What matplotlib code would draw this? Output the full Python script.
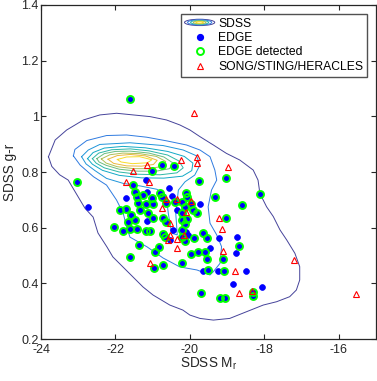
import matplotlib
matplotlib.use("Agg")
import matplotlib.pyplot as plt
from matplotlib.legend_handler import HandlerBase
from matplotlib.patches import Ellipse
from matplotlib.lines import Line2D

plt.rcParams['font.family'] = ['Liberation Sans', 'DejaVu Sans']
plt.rcParams['mathtext.fontset'] = 'custom'
plt.rcParams['mathtext.rm'] = 'Liberation Sans'
plt.rcParams['mathtext.it'] = 'Liberation Sans'
plt.rcParams['axes.unicode_minus'] = False

# ---------------- data ----------------
# SDSS density contours (outer to inner), vertices
sdss_c1 = [(-23.80, 0.855), (-23.62, 0.915), (-23.31, 0.951), (-22.86, 0.987), (-22.42, 1.005),
           (-21.97, 1.011), (-21.52, 1.005), (-21.07, 0.999), (-20.63, 0.987), (-20.27, 0.969),
           (-20.0, 0.951), (-19.73, 0.927), (-19.37, 0.897), (-19.02, 0.867), (-18.66, 0.843),
           (-18.30, 0.807), (-18.17, 0.771), (-18.12, 0.723), (-17.94, 0.675), (-17.76, 0.640),
           (-17.58, 0.592), (-17.40, 0.556), (-17.18, 0.508), (-17.05, 0.460), (-17.05, 0.412),
           (-17.14, 0.376), (-17.32, 0.352), (-17.67, 0.334), (-18.03, 0.322), (-18.48, 0.298),
           (-18.93, 0.274), (-19.37, 0.268), (-19.73, 0.274), (-20.0, 0.286), (-20.19, 0.304),
           (-20.54, 0.322), (-20.99, 0.358), (-21.26, 0.387), (-21.53, 0.423), (-21.80, 0.459),
           (-22.07, 0.495), (-22.23, 0.531), (-22.47, 0.581), (-22.60, 0.638), (-22.82, 0.670),
           (-22.95, 0.699), (-23.27, 0.771), (-23.50, 0.790), (-23.71, 0.820), (-23.80, 0.855)]
sdss_c2 = [(-23.13, 0.858), (-23.09, 0.881), (-22.77, 0.913), (-22.24, 0.931), (-21.70, 0.933),
           (-21.16, 0.925), (-20.63, 0.912), (-20.09, 0.897), (-19.73, 0.879), (-19.46, 0.855),
           (-19.33, 0.807), (-19.28, 0.771), (-19.42, 0.735), (-19.51, 0.675), (-19.46, 0.616),
           (-19.28, 0.574), (-19.15, 0.532), (-19.19, 0.472), (-19.37, 0.442), (-19.46, 0.430),
           (-19.81, 0.448), (-20.27, 0.459), (-20.72, 0.491), (-21.15, 0.531), (-21.61, 0.566),
           (-21.70, 0.602), (-21.79, 0.651), (-21.97, 0.699), (-22.24, 0.753), (-22.59, 0.783),
           (-22.95, 0.825), (-23.13, 0.858)]
sdss_c3 = [(-22.91, 0.855), (-22.73, 0.879), (-22.42, 0.899), (-21.61, 0.905), (-20.72, 0.895),
           (-20.18, 0.879), (-19.82, 0.858), (-19.73, 0.825), (-19.87, 0.789), (-20.13, 0.765),
           (-20.31, 0.735), (-20.38, 0.651), (-20.34, 0.574), (-20.49, 0.580), (-20.58, 0.651),
           (-20.64, 0.717), (-20.89, 0.738), (-21.34, 0.750), (-21.79, 0.759), (-22.24, 0.777),
           (-22.55, 0.805), (-22.79, 0.829), (-22.91, 0.855)]
sdss_c4 = [(-22.75, 0.848), (-22.60, 0.870), (-22.30, 0.886), (-21.80, 0.892), (-21.20, 0.887),
           (-20.60, 0.874), (-20.15, 0.856), (-19.92, 0.832), (-19.95, 0.805), (-20.20, 0.785),
           (-20.70, 0.778), (-21.30, 0.779), (-21.90, 0.788), (-22.35, 0.806), (-22.62, 0.828),
           (-22.75, 0.848)]
sdss_c5 = [(-22.62, 0.848), (-22.45, 0.868), (-22.10, 0.880), (-21.60, 0.883), (-21.10, 0.876),
           (-20.60, 0.861), (-20.30, 0.840), (-20.18, 0.815), (-20.35, 0.797), (-20.80, 0.790),
           (-21.40, 0.792), (-21.90, 0.800), (-22.30, 0.815), (-22.52, 0.832), (-22.62, 0.848)]
sdss_c6 = [(-22.50, 0.848), (-22.30, 0.866), (-22.00, 0.874), (-21.60, 0.875), (-21.10, 0.868),
           (-20.70, 0.854), (-20.45, 0.832), (-20.55, 0.812), (-20.90, 0.803), (-21.40, 0.803),
           (-21.90, 0.810), (-22.25, 0.824), (-22.44, 0.836), (-22.50, 0.848)]
sdss_c7 = [(-22.38, 0.847), (-22.15, 0.862), (-21.80, 0.868), (-21.35, 0.866), (-20.90, 0.856),
           (-20.65, 0.838), (-20.75, 0.820), (-21.10, 0.812), (-21.50, 0.812), (-21.95, 0.819),
           (-22.25, 0.832), (-22.38, 0.847)]
sdss_c8 = [(-22.20, 0.846), (-21.95, 0.859), (-21.60, 0.863), (-21.20, 0.858), (-20.88, 0.842),
           (-20.98, 0.827), (-21.30, 0.821), (-21.70, 0.822), (-22.05, 0.831), (-22.20, 0.846)]
sdss_c9 = [(-21.95, 0.845), (-21.70, 0.854), (-21.35, 0.855), (-21.02, 0.844), (-21.15, 0.833),
           (-21.55, 0.830), (-21.85, 0.836), (-21.95, 0.845)]
sdss_contours = [sdss_c1, sdss_c2, sdss_c3, sdss_c4, sdss_c5, sdss_c6, sdss_c7, sdss_c8, sdss_c9]
contour_colors = ['#45439a', '#2f7be0', '#1f95da', '#12a9c6', '#2db7a6',
                  '#6cbd7e', '#b0bf55', '#eab83c', '#f6dc28']

# EDGE galaxies: M_r, g-r, detected flag
edge_mr = [-21.61, -23.02, -22.73, -21.03, -20.76, -20.44, -21.19, -19.75, -19.02, -18.13,
           -18.60, -19.33, -19.73, -19.02, -22.04, -21.73, -21.61, -21.36, -20.97, -20.72,
           -20.20, -19.70, -19.19, -19.05, -18.30, -18.68, -18.73, -18.75, -18.84, -18.48,
           -18.06, -19.24, -19.10, -19.09, -19.22, -19.46, -19.52, -19.54, -19.66, -19.60,
           -19.79, -19.98, -19.88, -19.64, -19.54, -20.93, -20.82, -21.79, -21.61, -21.43,
           -21.19, -21.07, -20.04, -21.52, -21.48, -21.43, -21.25, -21.16, -21.03, -20.81,
           -20.76, -20.56, -20.48, -20.63, -20.40, -20.11, -20.09, -20.20, -19.96, -19.91,
           -19.82, -20.13, -20.22, -21.39, -21.19, -20.98, -21.88, -21.72, -21.59, -21.34,
           -21.12, -20.98, -20.72, -20.36, -21.66, -21.48, -21.16, -20.65, -20.20, -20.13,
           -20.07, -20.45, -20.22, -20.11, -20.67, -20.73, -20.21, -20.13, -20.54, -18.30]
edge_gr = [1.061, 0.765, 0.673, 0.802, 0.825, 0.823, 0.771, 0.768, 0.777, 0.721,
           0.683, 0.711, 0.685, 0.635, 0.602, 0.707, 0.496, 0.538, 0.454, 0.466,
           0.473, 0.364, 0.346, 0.346, 0.356, 0.534, 0.565, 0.508, 0.398, 0.446,
           0.386, 0.446, 0.486, 0.446, 0.562, 0.526, 0.448, 0.486, 0.446, 0.511,
           0.511, 0.505, 0.564, 0.580, 0.564, 0.511, 0.532, 0.588, 0.594, 0.596,
           0.588, 0.588, 0.574, 0.753, 0.729, 0.711, 0.717, 0.729, 0.705, 0.723,
           0.711, 0.744, 0.714, 0.687, 0.693, 0.726, 0.711, 0.693, 0.685, 0.663,
           0.654, 0.675, 0.651, 0.687, 0.685, 0.685, 0.663, 0.666, 0.646, 0.663,
           0.651, 0.634, 0.634, 0.663, 0.622, 0.628, 0.624, 0.622, 0.628, 0.613,
           0.632, 0.592, 0.592, 0.586, 0.565, 0.576, 0.565, 0.553, 0.556, 0.368]
edge_detected = [1, 1, 0, 1, 1, 1, 0, 1, 1, 1,
                 1, 1, 0, 1, 1, 0, 1, 1, 1, 1,
                 1, 1, 1, 1, 1, 1, 0, 0, 0, 0,
                 0, 0, 1, 1, 0, 0, 1, 1, 0, 1,
                 1, 1, 1, 1, 1, 1, 1, 1, 1, 1,
                 1, 1, 0, 1, 1, 1, 1, 0, 1, 1,
                 1, 0, 0, 1, 1, 1, 1, 1, 1, 1,
                 1, 1, 1, 1, 1, 1, 1, 1, 1, 1,
                 1, 1, 1, 0, 1, 1, 0, 1, 1, 1,
                 1, 0, 1, 0, 1, 1, 1, 1, 0, 1]

# SONG / STING / HERACLES galaxies
song_mr = [-19.88, -20.24, -19.82, -19.82, -18.99, -21.16, -21.54, -21.73, -21.10, -20.63,
           -20.36, -19.96, -20.74, -20.11, -19.22, -19.13, -20.54, -20.54, -20.58, -20.36,
           -20.15, -20.36, -19.12, -21.08, -18.79, -18.68, -18.33, -17.21, -15.54]
song_gr = [1.013, 0.843, 0.855, 0.831, 0.817, 0.824, 0.804, 0.765, 0.764, 0.703,
           0.704, 0.695, 0.671, 0.655, 0.634, 0.594, 0.616, 0.574, 0.556, 0.558,
           0.572, 0.526, 0.516, 0.474, 0.446, 0.364, 0.374, 0.484, 0.362]

x_ticks = [-24, -22, -20, -18, -16]
y_ticks = [0.2, 0.4, 0.6, 0.8, 1.0, 1.2, 1.4]
y_tick_labels = ['0.2', '0.4', '0.6', '0.8', '1', '1.2', '1.4']

# ---------------- plot ----------------
fig = plt.figure(figsize=(3.77, 3.81), dpi=100)
ax = fig.add_axes([0.1088, 0.1102, 0.8886, 0.8767])

for cont, col in zip(sdss_contours, contour_colors):
    xs = [p[0] for p in cont]
    ys = [p[1] for p in cont]
    ax.plot(xs, ys, color=col, lw=0.7, zorder=1)

ax.plot(edge_mr, edge_gr, linestyle='none', marker='o', ms=4.2, mfc='#0000ff',
        mec='#0000ff', mew=0.5, zorder=2)
det_x = [m for m, d in zip(edge_mr, edge_detected) if d]
det_y = [g for g, d in zip(edge_gr, edge_detected) if d]
ax.plot(det_x, det_y, linestyle='none', marker='o', ms=5.0, mfc='none',
        mec='#00ff00', mew=1.4, zorder=3)
ax.plot(song_mr, song_gr, linestyle='none', marker='^', ms=4.6, mfc='none',
        mec='#ff0000', mew=0.8, zorder=4)

ax.set_xlim(-24, -15)
ax.set_ylim(0.2, 1.4)
ax.set_xticks(x_ticks)
ax.set_xticklabels([str(t) for t in x_ticks])
ax.set_yticks(y_ticks)
ax.set_yticklabels(y_tick_labels)
ax.tick_params(direction='in', top=True, right=True, length=3.5, width=0.8,
               labelsize=9, colors='#262626')
ax.tick_params(axis='x', pad=3.5)
ax.tick_params(axis='y', pad=1.5)
for s in ax.spines.values():
    s.set_linewidth(0.9)
    s.set_color('#262626')

ax.set_xlabel('SDSS M$_{\\mathregular{r}}$', fontsize=9.8, color='#262626', labelpad=0)
ax.set_ylabel('SDSS g-r', fontsize=9.8, color='#262626', labelpad=3)


class ContourHandler(HandlerBase):
    def create_artists(self, legend, orig_handle, xdescent, ydescent, width, height,
                       fontsize, trans):
        cx = width / 2 - xdescent
        cy = height / 2 - ydescent
        arts = []
        cols = ['#45439a', '#2f7be0', '#2db7a6', '#b0bf55', '#f6dc28']
        fr = [1.0, 0.8, 0.6, 0.42, 0.25]
        for c, f in zip(cols, fr):
            e = Ellipse((cx, cy), width * 1.0 * f, height * 0.75 * f, fill=False,
                        edgecolor=c, lw=0.7, transform=trans)
            arts.append(e)
        return arts


h_sdss = Line2D([], [], color='#45439a')
h_edge = Line2D([], [], linestyle='none', marker='o', ms=4.2, mfc='#0000ff', mec='#0000ff')
h_det = Line2D([], [], linestyle='none', marker='o', ms=5.0, mfc='none', mec='#00ff00', mew=1.4)
h_song = Line2D([], [], linestyle='none', marker='^', ms=4.6, mfc='none', mec='#ff0000', mew=0.8)
leg = ax.legend([h_sdss, h_edge, h_det, h_song],
                ['SDSS', 'EDGE', 'EDGE detected', 'SONG/STING/HERACLES'],
                handler_map={h_sdss: ContourHandler()},
                loc='upper right', bbox_to_anchor=(0.973, 0.973), borderaxespad=0,
                fontsize=8.7, frameon=True, fancybox=False, handlelength=2.5,
                handletextpad=0.3, labelspacing=0.2, borderpad=0.3)
leg.get_frame().set_edgecolor('#262626')
leg.get_frame().set_linewidth(1.0)

fig.savefig('out.png', dpi=100)
